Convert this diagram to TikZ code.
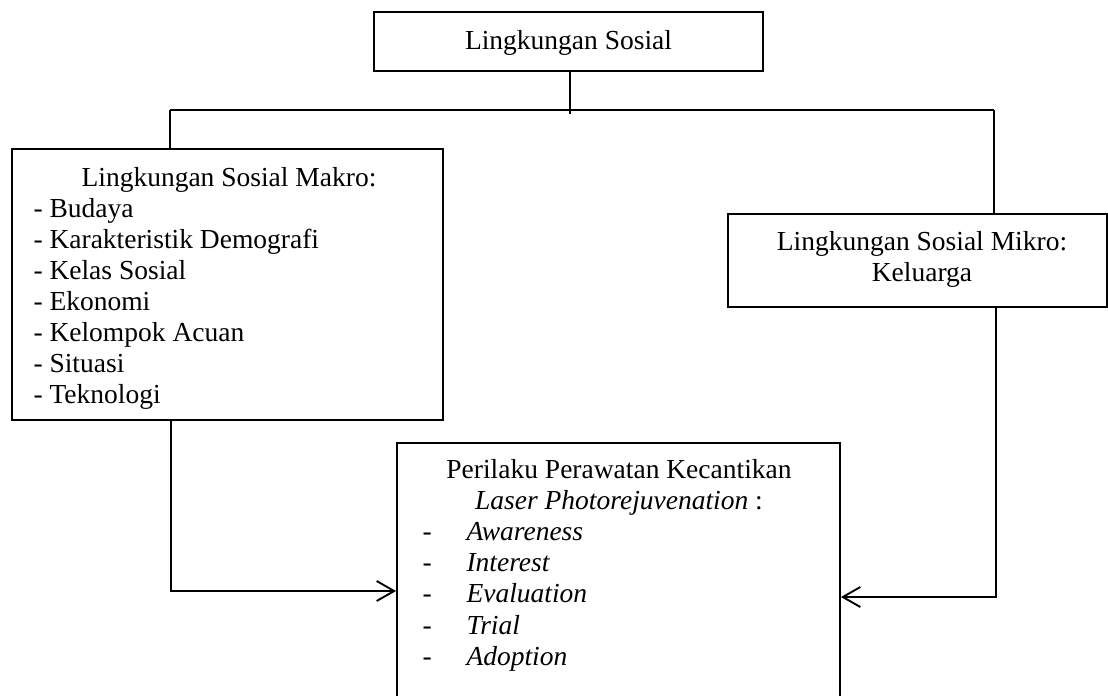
\documentclass[tikz,border=0pt]{standalone}
\usepackage{fontspec}
\setmainfont{Liberation Serif}
\usetikzlibrary{
  arrows.meta,
  positioning
}
\tikzset{
  >={Straight Barb[length=7pt,width=8pt]},
  box/.style={draw, line width=0.75pt, inner sep=0pt},
  txt/.style={inner sep=0pt, font=\fontsize{11}{13}\selectfont},
  link/.style={line width=0.75pt}
}

\begin{document}
\begin{tikzpicture}[x=0.4pt,y=-0.4pt]
    \clip (0,0) rectangle (1108,695);
    % boxes
    \node[box, minimum width=155.6pt, minimum height=23.6pt] (top) at (568.5,41.5) {};
    \node[box, minimum width=172.4pt, minimum height=108.4pt] (makro) at (227.5,284.5) {};
    \node[box, minimum width=151.6pt, minimum height=37.2pt] (mikro) at (917.5,260.5) {};
    \node[box, minimum width=177.2pt, minimum height=120.8pt] (perilaku) at (618.5,594) {};
    % texts
    \node[txt, anchor=base] (toptxt) at (568.5,49) {Lingkungan Sosial};
    \node[txt, anchor=base] (maktitle) at (229,186) {Lingkungan Sosial Makro:};
    \foreach \lbl [count=\i] in {Budaya, Karakteristik Demografi, Kelas Sosial, Ekonomi, Kelompok Acuan, Situasi, Teknologi}
      \node[txt, anchor=base west] (mak\i) at (33,{186+31*\i}) {- \lbl};
    \node[txt, anchor=base] (miktitle) at (922,250) {Lingkungan Sosial Mikro:};
    \node[txt, anchor=base] (mikkel) at (922,281) {Keluarga};
    \node[txt, anchor=base] (pertitle) at (619,478) {Perilaku Perawatan Kecantikan};
    \node[txt, anchor=base] (perlaser) at (619,509) {\textit{Laser Photorejuvenation} :};
    \foreach \lbl [count=\i] in {Awareness, Interest, Evaluation, Trial, Adoption} {
      \node[txt, anchor=base west] (dash\i) at (422,{509+31.3*\i}) {-};
      \node[txt, anchor=base west] (per\i) at (466,{509+31.3*\i}) {\textit{\lbl}};
    }
    % connectors
    \coordinate (barL) at (170,110);
    \coordinate (barR) at (994,110);
    \draw[link] ([xshift=0.6pt]top.south) -- ++(0,42);
    \draw[link] (barL) -- (barR);
    \draw[link] (barL) -- (barL |- makro.north);
    \draw[link] (barR) -- (barR |- mikro.north);
    \draw[link, ->] (makro.south west) ++(160,0) |- ([yshift=1.2pt]perilaku.west);
    \draw[link, ->] (mikro.south east) ++(-112,0) |- ([yshift=-1.2pt]perilaku.east);
  \end{tikzpicture}
\end{document}
